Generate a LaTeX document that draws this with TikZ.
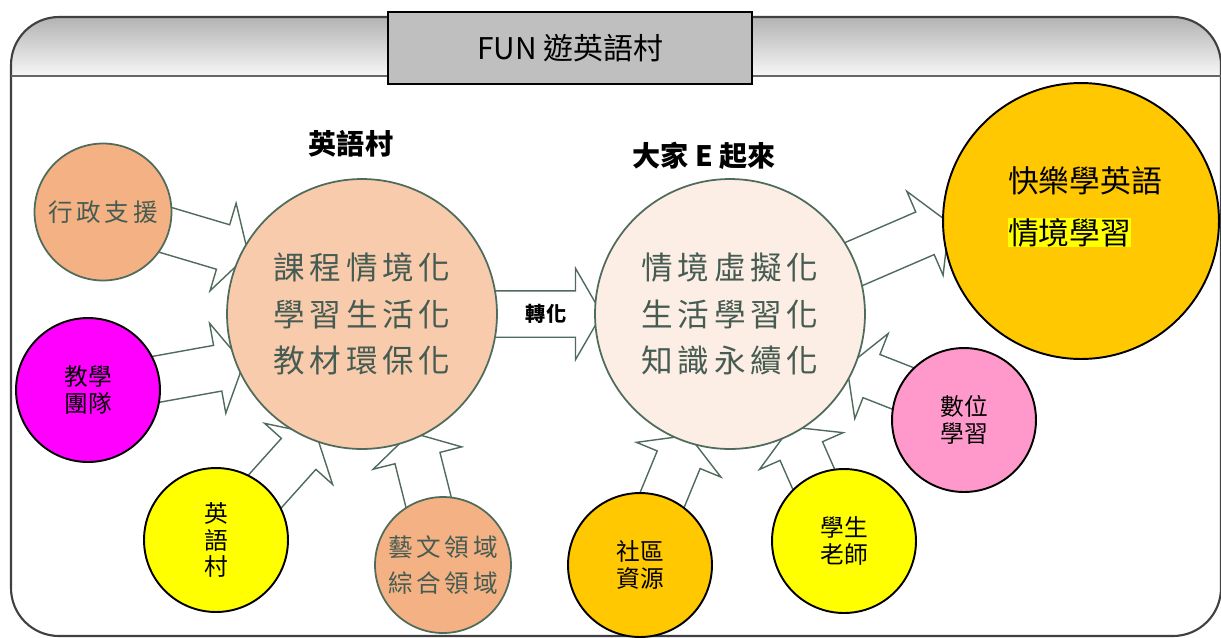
\documentclass[tikz,border=0pt]{standalone}
\usepackage{fontspec}
\setmainfont{Noto Sans CJK TC}
\newfontfamily\spacedcjk[LetterSpace=15]{Noto Sans CJK TC}
\usetikzlibrary{positioning,shapes.arrows,backgrounds,calc}

\definecolor{peach}{HTML}{F8CBAD}
\definecolor{paleorange}{HTML}{FCEEE4}
\definecolor{salmon}{HTML}{F4B183}
\definecolor{amber}{HTML}{FFC800}
\definecolor{rosepink}{HTML}{FF99CC}
\definecolor{purepink}{HTML}{FF00FF}
\definecolor{pureyellow}{HTML}{FFFF00}
\definecolor{edgegreen}{HTML}{4F6B5C}
\definecolor{textgreen}{HTML}{465C52}

% block arrow from one node border to another
\newcommand{\fatarrow}[2]{%
  \path let \p1=(#1), \p2=(#2),
    \n1={atan2(\y2-\y1,\x2-\x1)},
    \n2={veclen(\x2-\x1,\y2-\y1)+8}
  in node[fatarrow, anchor=tail, rotate=\n1, minimum height=\n2]
    at ($(\p1)!-4pt!(\p2)$) {};%
}

\begin{document}
\begin{tikzpicture}[
        x=0.02cm, y=-0.02cm,
        bigcircle/.style={circle, draw=edgegreen, line width=1pt, minimum size=5.4cm, inner sep=0pt, text=textgreen, align=center, font=\spacedcjk\fontsize{18}{26.6}\selectfont},
        smallcircle/.style={circle, draw, line width=1.1pt, minimum size=2.88cm, inner sep=0pt, align=center, font=\fontsize{13.5}{15}\selectfont},
        softcircle/.style={smallcircle, draw=edgegreen, line width=1pt, fill=salmon, text=textgreen, font=\spacedcjk\fontsize{14}{20}\selectfont},
        fatarrow/.style={single arrow, draw=edgegreen, fill=white, line width=0.8pt, inner xsep=0pt, inner ysep=0.45cm, single arrow head extend=0.45cm, single arrow tip angle=120},
        heading/.style={font=\bfseries\fontsize{16}{18}\selectfont},
        titlebox/.style={rectangle, draw, line width=1pt, fill=black!25, minimum width=7.28cm, minimum height=1.44cm, font=\fontsize{17}{20}\selectfont}
    ]
    \useasboundingbox (0,0) rectangle (1221,637);

    % Frame with grey band
    \fill[top color=black!30, bottom color=black!3] (11,76) [rounded corners=0.96cm] -- (11,17) -- (1221,17) [sharp corners] -- (1221,76) -- cycle;
    \draw[black!75, line width=1.2pt, rounded corners=0.96cm] (11,17) rectangle (1221,636);
    \draw[black!60, line width=1.2pt] (11,76) -- (1221,76);

    % Title
    \node[titlebox] (title) at (570,48) {FUN 遊英語村};

    % Two main circles
    \node[bigcircle, fill=peach] (village) at (362,314) {課程情境化\\學習生活化\\教材環保化};
    \node[bigcircle, fill=paleorange] (together) at (730,314) {情境虛擬化\\生活學習化\\知識永續化};
    \node[heading, above=0.29cm of village, xshift=-0.22cm] (villagehead) {英語村};
    \node[heading, above=0.05cm of together, xshift=-0.52cm] (togetherhead) {大家~E~起來};

    % Goal circle
    \node[circle, draw, line width=1.1pt, fill=amber, minimum size=5.52cm,
        label={[align=left, xshift=0.08cm, yshift=0.28cm, font=\fontsize{17.5}{29.5}\selectfont]center:{快樂學英語\\{\fboxsep=0pt\colorbox{pureyellow}{情境學習}}}}] (happy) at (1081,221) {};

    % Support circles
    \node[softcircle, minimum size=2.74cm] (admin) at (103,212) {行政支援};
    \node[smallcircle, fill=purepink] (team) at (88,390) {教學\\團隊};
    \node[smallcircle, fill=pureyellow] (english) at (216,540) {英\\語\\村};
    \node[softcircle, minimum size=2.72cm] (arts) at (443,565) {藝文領域\\綜合領域};
    \node[smallcircle, fill=amber] (community) at (640,565) {社區\\資源};
    \node[smallcircle, fill=pureyellow] (people) at (844,541) {學生\\老師};
    \node[smallcircle, fill=rosepink] (digital) at (964,420) {數位\\學習};

    % Block arrows behind the circles
    \begin{scope}[on background layer]
        \fatarrow{admin.-16}{village.153}
        \fatarrow{team.9}{village.202}
        \fatarrow{english.45}{village.248}
        \fatarrow{arts.103}{village.-68}
        \fatarrow{village.east}{together.west}
        \fatarrow{together.22}{happy.182}
        \fatarrow{community.71}{together.251}
        \fatarrow{people.116}{together.-62}
        \fatarrow{digital.153}{together.-24}
    \end{scope}
    \node[font=\bfseries\fontsize{11.5}{12}\selectfont] (turn) at ($(village.east)!0.5!(together.west)$) {轉化};
\end{tikzpicture}
\end{document}
